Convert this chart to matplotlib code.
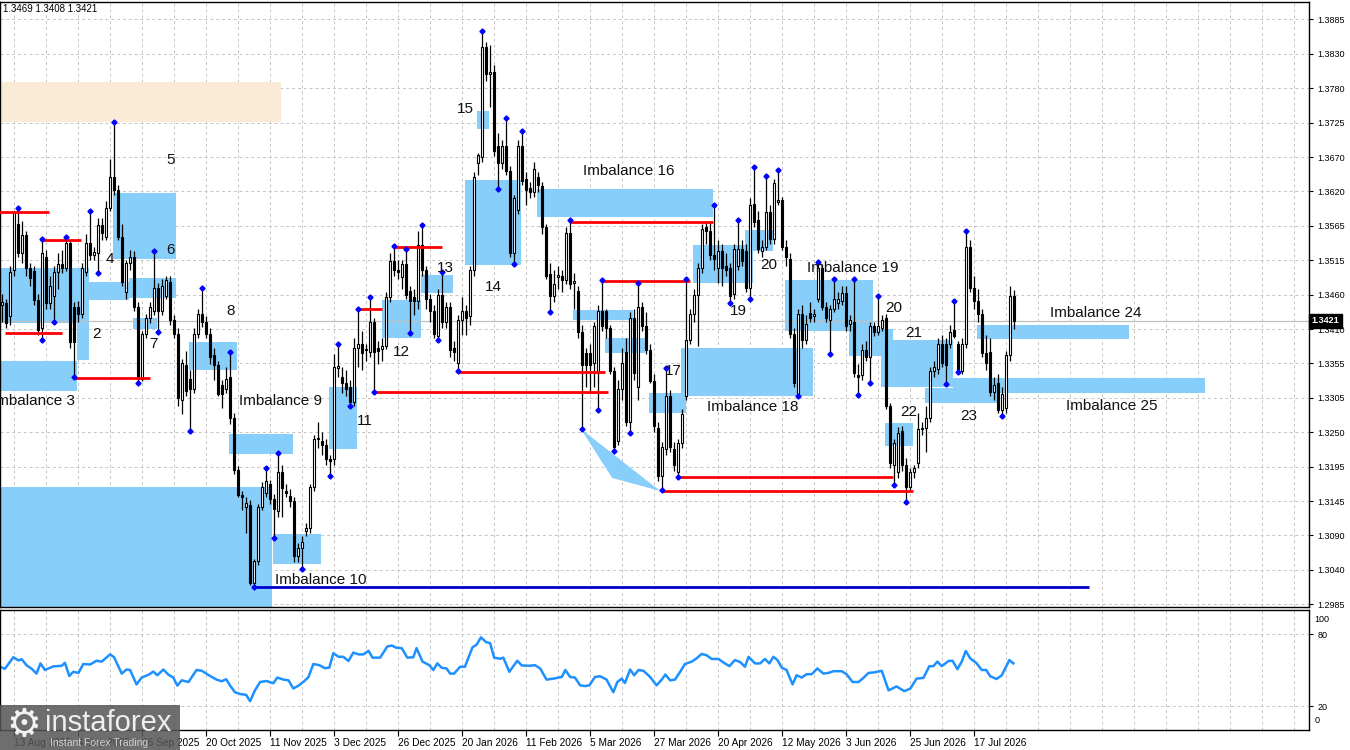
import numpy as np
import matplotlib
matplotlib.use("Agg")
import matplotlib.pyplot as plt
from matplotlib.patches import Rectangle, Polygon

plt.rcParams['font.family'] = ['Liberation Sans', 'DejaVu Sans']

# daily candles (bar 1 = leftmost visible candle)
opens = [
    1.3445, 1.3448, 1.3428, 1.3499, 1.3571, 1.3526, 1.3553, 1.3502, 1.3498, 1.3454,
    1.3410, 1.3520, 1.3448, 1.3460, 1.3496, 1.3508, 1.3502, 1.3541, 1.3443, 1.3443,
    1.3431, 1.3496, 1.3541, 1.3523, 1.3526, 1.3569, 1.3551, 1.3595, 1.3643, 1.3622,
    1.3550, 1.3466, 1.3510, 1.3520, 1.3443, 1.3332, 1.3401, 1.3425, 1.3437, 1.3472,
    1.3437, 1.3460, 1.3481, 1.3422, 1.3401, 1.3299, 1.3353, 1.3332, 1.3317, 1.3401,
    1.3431, 1.3419, 1.3401, 1.3368, 1.3353, 1.3323, 1.3317, 1.3335, 1.3272, 1.3191,
    1.3153, 1.3135, 1.3138, 1.3018, 1.3051, 1.3135, 1.3157, 1.3170, 1.3147, 1.3129,
    1.3188, 1.3160, 1.3151, 1.3144, 1.3060, 1.3072, 1.3098, 1.3102, 1.3165, 1.3239,
    1.3236, 1.3230, 1.3209, 1.3209, 1.3348, 1.3335, 1.3326, 1.3320, 1.3296, 1.3380,
    1.3386, 1.3378, 1.3374, 1.3419, 1.3380, 1.3378, 1.3383, 1.3458, 1.3514, 1.3500,
    1.3488, 1.3508, 1.3467, 1.3458, 1.3452, 1.3538, 1.3499, 1.3455, 1.3437, 1.3398,
    1.3461, 1.3419, 1.3443, 1.3380, 1.3356, 1.3422, 1.3437, 1.3428, 1.3499, 1.3664,
    1.3673, 1.3843, 1.3801, 1.3804, 1.3691, 1.3664, 1.3691, 1.3652, 1.3526, 1.3592,
    1.3691, 1.3640, 1.3625, 1.3619, 1.3643, 1.3628, 1.3565, 1.3493, 1.3460, 1.3489,
    1.3490, 1.3484, 1.3556, 1.3480, 1.3467, 1.3404, 1.3371, 1.3371, 1.3356, 1.3341,
    1.3437, 1.3437, 1.3410, 1.3344, 1.3236, 1.3317, 1.3374, 1.3266, 1.3425, 1.3320,
    1.3443, 1.3413, 1.3377, 1.3329, 1.3257, 1.3182, 1.3224, 1.3305, 1.3224, 1.3188,
    1.3233, 1.3305, 1.3392, 1.3431, 1.3461, 1.3502, 1.3565, 1.3559, 1.3523, 1.3502,
    1.3529, 1.3505, 1.3502, 1.3463, 1.3505, 1.3532, 1.3529, 1.3472, 1.3601, 1.3577,
    1.3529, 1.3535, 1.3589, 1.3547, 1.3604, 1.3607, 1.3535, 1.3517, 1.3401, 1.3308,
    1.3431, 1.3392, 1.3434, 1.3428, 1.3455, 1.3502, 1.3443, 1.3422, 1.3440, 1.3449,
    1.3452, 1.3464, 1.3416, 1.3419, 1.3338, 1.3338, 1.3377, 1.3365, 1.3413, 1.3404,
    1.3410, 1.3425, 1.3290, 1.3200, 1.3188, 1.3251, 1.3200, 1.3165, 1.3188, 1.3203,
    1.3254, 1.3257, 1.3272, 1.3344, 1.3347, 1.3386, 1.3386, 1.3386, 1.3407, 1.3386,
    1.3344, 1.3386, 1.3535, 1.3472, 1.3452, 1.3431, 1.3371, 1.3374, 1.3311, 1.3326,
    1.3284, 1.3287, 1.3368, 1.3460,
]
highs = [
    1.3462, 1.3455, 1.3505, 1.3590, 1.3595, 1.3575, 1.3560, 1.3510, 1.3505, 1.3462,
    1.3547, 1.3530, 1.3490, 1.3505, 1.3525, 1.3530, 1.3551, 1.3545, 1.3450, 1.3452,
    1.3510, 1.3555, 1.3590, 1.3535, 1.3580, 1.3580, 1.3605, 1.3670, 1.3727, 1.3630,
    1.3570, 1.3515, 1.3530, 1.3528, 1.3450, 1.3405, 1.3432, 1.3450, 1.3529, 1.3480,
    1.3485, 1.3490, 1.3490, 1.3430, 1.3410, 1.3362, 1.3375, 1.3345, 1.3410, 1.3440,
    1.3472, 1.3428, 1.3410, 1.3380, 1.3360, 1.3330, 1.3350, 1.3374, 1.3280, 1.3198,
    1.3160, 1.3150, 1.3145, 1.3055, 1.3140, 1.3173, 1.3194, 1.3176, 1.3155, 1.3218,
    1.3200, 1.3170, 1.3162, 1.3150, 1.3080, 1.3090, 1.3110, 1.3170, 1.3245, 1.3265,
    1.3250, 1.3240, 1.3215, 1.3370, 1.3386, 1.3350, 1.3345, 1.3330, 1.3395, 1.3440,
    1.3405, 1.3385, 1.3458, 1.3425, 1.3390, 1.3395, 1.3465, 1.3525, 1.3536, 1.3515,
    1.3515, 1.3532, 1.3475, 1.3470, 1.3560, 1.3568, 1.3505, 1.3462, 1.3445, 1.3470,
    1.3496, 1.3450, 1.3450, 1.3390, 1.3430, 1.3458, 1.3445, 1.3505, 1.3650, 1.3680,
    1.3868, 1.3850, 1.3845, 1.3815, 1.3710, 1.3700, 1.3734, 1.3660, 1.3615, 1.3700,
    1.3713, 1.3650, 1.3635, 1.3665, 1.3650, 1.3635, 1.3570, 1.3510, 1.3500, 1.3505,
    1.3500, 1.3565, 1.3576, 1.3495, 1.3475, 1.3415, 1.3380, 1.3385, 1.3420, 1.3445,
    1.3484, 1.3440, 1.3415, 1.3350, 1.3330, 1.3380, 1.3395, 1.3435, 1.3440, 1.3480,
    1.3450, 1.3435, 1.3385, 1.3340, 1.3265, 1.3235, 1.3348, 1.3315, 1.3235, 1.3240,
    1.3285, 1.3486, 1.3440, 1.3470, 1.3510, 1.3570, 1.3575, 1.3575, 1.3600, 1.3545,
    1.3540, 1.3525, 1.3510, 1.3540, 1.3576, 1.3545, 1.3540, 1.3610, 1.3658, 1.3590,
    1.3545, 1.3644, 1.3600, 1.3640, 1.3654, 1.3612, 1.3545, 1.3525, 1.3410, 1.3440,
    1.3445, 1.3430, 1.3450, 1.3440, 1.3511, 1.3508, 1.3450, 1.3445, 1.3486, 1.3465,
    1.3475, 1.3475, 1.3430, 1.3486, 1.3355, 1.3385, 1.3390, 1.3420, 1.3420, 1.3459,
    1.3430, 1.3432, 1.3295, 1.3240, 1.3258, 1.3260, 1.3210, 1.3195, 1.3200, 1.3280,
    1.3265, 1.3290, 1.3350, 1.3360, 1.3395, 1.3400, 1.3395, 1.3415, 1.3452, 1.3390,
    1.3395, 1.3559, 1.3545, 1.3490, 1.3470, 1.3440, 1.3400, 1.3395, 1.3335, 1.3340,
    1.3320, 1.3375, 1.3475, 1.3469,
]
lows = [
    1.3420, 1.3410, 1.3415, 1.3490, 1.3520, 1.3510, 1.3490, 1.3475, 1.3445, 1.3400,
    1.3392, 1.3440, 1.3440, 1.3419, 1.3470, 1.3495, 1.3498, 1.3380, 1.3335, 1.3420,
    1.3425, 1.3490, 1.3515, 1.3515, 1.3495, 1.3545, 1.3545, 1.3590, 1.3615, 1.3545,
    1.3475, 1.3455, 1.3500, 1.3437, 1.3326, 1.3328, 1.3395, 1.3418, 1.3430, 1.3404,
    1.3430, 1.3455, 1.3415, 1.3395, 1.3290, 1.3278, 1.3305, 1.3251, 1.3310, 1.3395,
    1.3412, 1.3395, 1.3355, 1.3330, 1.3305, 1.3287, 1.3310, 1.3262, 1.3185, 1.3150,
    1.3130, 1.3095, 1.3015, 1.3012, 1.3045, 1.3130, 1.3150, 1.3140, 1.3087, 1.3120,
    1.3120, 1.3150, 1.3135, 1.3050, 1.3050, 1.3039, 1.3090, 1.3095, 1.3160, 1.3225,
    1.3215, 1.3200, 1.3182, 1.3200, 1.3335, 1.3310, 1.3305, 1.3290, 1.3290, 1.3350,
    1.3345, 1.3360, 1.3365, 1.3312, 1.3355, 1.3360, 1.3378, 1.3450, 1.3490, 1.3485,
    1.3470, 1.3455, 1.3403, 1.3430, 1.3440, 1.3490, 1.3440, 1.3420, 1.3395, 1.3392,
    1.3410, 1.3410, 1.3365, 1.3360, 1.3344, 1.3400, 1.3400, 1.3415, 1.3490, 1.3645,
    1.3665, 1.3790, 1.3750, 1.3675, 1.3624, 1.3655, 1.3645, 1.3520, 1.3508, 1.3585,
    1.3630, 1.3600, 1.3610, 1.3612, 1.3620, 1.3555, 1.3485, 1.3435, 1.3450, 1.3470,
    1.3465, 1.3478, 1.3470, 1.3440, 1.3395, 1.3255, 1.3320, 1.3310, 1.3320, 1.3284,
    1.3405, 1.3395, 1.3340, 1.3221, 1.3230, 1.3300, 1.3260, 1.3248, 1.3330, 1.3300,
    1.3405, 1.3370, 1.3325, 1.3250, 1.3175, 1.3161, 1.3215, 1.3220, 1.3190, 1.3181,
    1.3225, 1.3300, 1.3385, 1.3420, 1.3383, 1.3495, 1.3540, 1.3515, 1.3500, 1.3480,
    1.3475, 1.3490, 1.3449, 1.3455, 1.3500, 1.3505, 1.3465, 1.3455, 1.3565, 1.3525,
    1.3520, 1.3530, 1.3540, 1.3540, 1.3600, 1.3530, 1.3505, 1.3395, 1.3320, 1.3305,
    1.3380, 1.3385, 1.3420, 1.3420, 1.3450, 1.3438, 1.3420, 1.3370, 1.3435, 1.3440,
    1.3445, 1.3405, 1.3405, 1.3335, 1.3307, 1.3330, 1.3360, 1.3326, 1.3398, 1.3400,
    1.3405, 1.3285, 1.3195, 1.3168, 1.3180, 1.3190, 1.3142, 1.3160, 1.3180, 1.3195,
    1.3245, 1.3220, 1.3265, 1.3335, 1.3340, 1.3350, 1.3324, 1.3380, 1.3395, 1.3343,
    1.3340, 1.3380, 1.3465, 1.3440, 1.3420, 1.3365, 1.3345, 1.3305, 1.3300, 1.3280,
    1.3275, 1.3280, 1.3360, 1.3408,
]
closes = [
    1.3450, 1.3418, 1.3497, 1.3589, 1.3526, 1.3553, 1.3502, 1.3487, 1.3454, 1.3407,
    1.3526, 1.3448, 1.3475, 1.3496, 1.3508, 1.3502, 1.3541, 1.3389, 1.3389, 1.3431,
    1.3502, 1.3541, 1.3523, 1.3527, 1.3568, 1.3556, 1.3595, 1.3643, 1.3622, 1.3550,
    1.3481, 1.3510, 1.3520, 1.3443, 1.3332, 1.3401, 1.3425, 1.3443, 1.3472, 1.3437,
    1.3475, 1.3484, 1.3422, 1.3401, 1.3302, 1.3356, 1.3314, 1.3317, 1.3401, 1.3431,
    1.3419, 1.3401, 1.3365, 1.3353, 1.3308, 1.3308, 1.3332, 1.3272, 1.3191, 1.3153,
    1.3150, 1.3141, 1.3018, 1.3051, 1.3135, 1.3165, 1.3174, 1.3147, 1.3132, 1.3188,
    1.3164, 1.3157, 1.3144, 1.3060, 1.3072, 1.3081, 1.3102, 1.3165, 1.3239, 1.3241,
    1.3230, 1.3209, 1.3206, 1.3350, 1.3352, 1.3325, 1.3317, 1.3296, 1.3380, 1.3386,
    1.3371, 1.3376, 1.3419, 1.3374, 1.3375, 1.3383, 1.3458, 1.3514, 1.3499, 1.3496,
    1.3508, 1.3461, 1.3452, 1.3452, 1.3538, 1.3499, 1.3455, 1.3437, 1.3401, 1.3461,
    1.3419, 1.3443, 1.3377, 1.3374, 1.3422, 1.3437, 1.3425, 1.3499, 1.3643, 1.3676,
    1.3843, 1.3801, 1.3804, 1.3682, 1.3664, 1.3691, 1.3652, 1.3526, 1.3610, 1.3691,
    1.3637, 1.3622, 1.3619, 1.3655, 1.3631, 1.3565, 1.3490, 1.3460, 1.3478, 1.3491,
    1.3484, 1.3556, 1.3478, 1.3482, 1.3404, 1.3353, 1.3353, 1.3353, 1.3413, 1.3437,
    1.3413, 1.3410, 1.3344, 1.3227, 1.3317, 1.3356, 1.3266, 1.3425, 1.3341, 1.3443,
    1.3413, 1.3377, 1.3329, 1.3260, 1.3182, 1.3227, 1.3305, 1.3227, 1.3200, 1.3233,
    1.3278, 1.3392, 1.3431, 1.3461, 1.3502, 1.3562, 1.3559, 1.3523, 1.3517, 1.3529,
    1.3502, 1.3499, 1.3460, 1.3532, 1.3532, 1.3514, 1.3472, 1.3599, 1.3574, 1.3532,
    1.3535, 1.3589, 1.3547, 1.3634, 1.3607, 1.3535, 1.3520, 1.3401, 1.3326, 1.3431,
    1.3392, 1.3416, 1.3425, 1.3431, 1.3502, 1.3443, 1.3425, 1.3440, 1.3455, 1.3455,
    1.3464, 1.3413, 1.3422, 1.3341, 1.3335, 1.3377, 1.3365, 1.3413, 1.3404, 1.3413,
    1.3422, 1.3290, 1.3203, 1.3233, 1.3248, 1.3200, 1.3165, 1.3188, 1.3194, 1.3254,
    1.3257, 1.3272, 1.3344, 1.3350, 1.3386, 1.3356, 1.3353, 1.3404, 1.3398, 1.3344,
    1.3386, 1.3535, 1.3472, 1.3452, 1.3431, 1.3371, 1.3356, 1.3311, 1.3323, 1.3284,
    1.3308, 1.3368, 1.3460, 1.3421,
]

# RSI sub-window, sampled along the drawn line (bar position, value)
rsi_bar = [
    0.6, 1.8, 3.9, 5.2, 6.0, 7.2, 8.5, 9.7, 10.7, 11.8,
    13.9, 16.0, 16.8, 17.9, 18.9, 20.2, 21.4, 23.1, 24.7, 26.0,
    28.1, 29.1, 31.0, 32.2, 33.1, 34.7, 36.0, 37.7, 38.9, 39.9,
    41.4, 42.7, 43.9, 44.9, 46.0, 47.7, 49.7, 51.0, 53.1, 54.7,
    56.0, 57.1, 58.1, 59.3, 60.6, 62.1, 63.1, 64.3, 65.6, 67.2,
    68.9, 69.9, 71.4, 72.7, 73.9, 75.2, 76.6, 77.7, 78.9, 80.4,
    81.8, 82.9, 83.9, 85.2, 86.4, 87.7, 88.9, 90.2, 91.4, 92.7,
    93.7, 95.6, 97.4, 98.5, 99.7, 101.0, 102.4, 103.9, 104.7, 106.2,
    107.9, 108.9, 109.9, 111.0, 112.2, 113.1, 114.1, 115.6, 116.8, 118.7,
    119.7, 120.8, 122.1, 123.1, 124.1, 125.6, 126.4, 127.9, 128.9,
    129.9, 131.0, 132.7, 134.3, 135.6, 137.2, 138.9, 140.2, 141.0, 141.9,
    143.1, 144.3, 145.6, 146.8, 147.9, 149.3, 150.6, 152.2, 153.9, 154.9,
    156.0, 156.8, 158.1, 159.1, 160.2, 161.4, 163.1, 164.7, 166.0, 166.9,
    168.1, 169.3, 170.6, 171.8, 173.5, 174.7, 176.0, 177.2, 178.5, 180.2,
    181.4, 182.9, 184.3, 185.6, 186.8, 187.7, 189.3, 190.6, 191.8, 192.9,
    193.9, 194.9, 196.0, 197.2, 198.7, 199.7, 201.0, 202.2, 203.5, 204.9,
    206.4, 207.7, 208.9, 211.0, 212.2, 213.7, 215.2, 216.4, 217.7, 218.9,
    221.0, 222.7, 224.7, 226.6, 228.1, 229.7, 231.4, 232.9, 233.9, 234.9,
    236.0, 237.7, 238.7, 239.9, 241.0, 242.0, 243.1, 244.6, 246.0, 247.1,
    248.1, 249.7, 251.0, 252.9, 253.9,
]
rsi_val = [
    52.7, 51, 60.6, 58, 59, 54, 51, 47, 55.5, 50,
    53, 53.5, 56, 45, 48.5, 47.6, 55, 54.6, 57.7, 57,
    63, 60.6, 47, 50.4, 50, 38, 43.7, 46, 48.7, 45.6,
    50.4, 46, 43.7, 37, 41.4, 40, 50, 49.4, 45, 42,
    40.6, 42.3, 37, 31.5, 30, 29.3, 24, 33, 40, 40.8,
    39, 43.7, 42, 41.4, 34.6, 37, 40.6, 44.2, 55, 54,
    51.5, 52, 64, 61, 61, 57.5, 64.5, 63, 63, 66,
    60.3, 60.3, 69.6, 70.4, 68.5, 68.2, 60.3, 60.6, 68.2, 57,
    54, 50, 55.5, 51.8, 51.3, 47, 47, 52.7, 52.7, 69,
    71, 77.2, 73.2, 72.4, 60.3, 59.4, 60.3, 48.5, 53.2,
    57.7, 53.8, 53.5, 54, 51.3, 42, 42.8, 43.7, 44.2, 50,
    44.2, 43.7, 37.2, 36.6, 37.2, 44.2, 44.8, 42, 31.5, 40,
    42.8, 39.2, 50.4, 45.6, 50, 49.4, 44.2, 37.2, 42, 46.2,
    41.4, 42, 48.5, 55, 57, 59.7, 63.4, 62.3, 59.2, 59.2,
    56.3, 53.2, 58.3, 56.6, 52.7, 61, 55.5, 55.5, 59.2, 55.5,
    61, 58.3, 52, 50, 38, 45.6, 43.7, 46.5, 46.5, 51.3,
    47, 47.6, 49, 49, 46.5, 40, 40, 43.4, 47.6, 47.9,
    49.3, 33, 36.3, 32.4, 34.4, 42.8, 43.4, 53.2, 53.2, 57,
    53.2, 57.5, 57.7, 50.7, 57, 65.9, 59.7, 56, 50, 50,
    44.8, 42.5, 45.6, 58.3, 55.5,
]

price_labels = ["1.3885", "1.3830", "1.3780", "1.3725", "1.3670", "1.3620",
                "1.3565", "1.3515", "1.3460", "1.3410", "1.3355", "1.3305",
                "1.3250", "1.3195", "1.3145", "1.3090", "1.3040", "1.2985"]
date_labels = ["13 Aug 2025", "4 Sep 2025", "26 Sep 2025", "20 Oct 2025",
               "11 Nov 2025", "3 Dec 2025", "26 Dec 2025", "20 Jan 2026",
               "11 Feb 2026", "5 Mar 2026", "27 Mar 2026", "20 Apr 2026",
               "12 May 2026", "3 Jun 2026", "25 Jun 2026", "17 Jul 2026"]
date_bars = [4, 20, 36, 52, 68, 84, 100, 116, 132, 148, 164, 180, 196, 212, 228, 244]

# fractal dots (bar numbers)
high_marks = [5, 11, 17, 23, 29, 39, 51, 58, 67, 70, 85, 90, 93, 99, 102, 106, 111,
              121, 127, 131, 143, 151, 160, 167, 172, 179, 185, 189, 192, 195, 205,
              209, 214, 220, 239, 242]
low_marks = [11, 14, 19, 25, 35, 40, 48, 64, 69, 76, 83, 88, 94, 103, 110, 115, 125,
             129, 138, 146, 150, 154, 158, 166, 170, 183, 188, 200, 208, 215, 218,
             224, 227, 237, 240, 251]

# imbalance zones: first bar, last bar, low, high
zones = [
    (-2, 20.6, 1.34179, 1.35018), (19.8, 22.8, 1.33610, 1.35018),
    (-2, 19.8, 1.33133, 1.33594), (22.8, 32.8, 1.34533, 1.34810),
    (28.8, 44.6, 1.35164, 1.36180), (32.8, 44.6, 1.34564, 1.34872),
    (33.8, 39.8, 1.34087, 1.34256), (47.8, 59.8, 1.33456, 1.33887),
    (-2, 68.6, 1.29000, 1.31655), (57.8, 73.8, 1.32163, 1.32471),
    (68.8, 80.8, 1.30470, 1.30932), (82.8, 89.8, 1.32240, 1.33194),
    (96.1, 105.8, 1.33948, 1.34533), (105.8, 113.8, 1.34641, 1.34918),
    (116.8, 130.8, 1.35079, 1.36380), (119.8, 122.8, 1.37165, 1.37442),
    (134.8, 178.8, 1.35810, 1.36241), (143.8, 158.8, 1.34225, 1.34379),
    (151.8, 161.8, 1.33717, 1.33948), (162.8, 172.1, 1.32794, 1.33102),
    (170.8, 203.8, 1.33056, 1.33794), (173.8, 188.8, 1.34795, 1.35380),
    (186.8, 193.8, 1.35287, 1.35610), (196.8, 218.8, 1.34056, 1.34841),
    (212.8, 223.8, 1.33671, 1.34087), (220.8, 238.8, 1.33194, 1.33917),
    (221.8, 228.8, 1.32286, 1.32640), (231.8, 250.6, 1.32948, 1.33179),
    (238.8, 301.8, 1.33102, 1.33333), (244.8, 282.8, 1.33933, 1.34148),
]
supply_zone = (-2, 70.8, 1.37272, 1.37888)
wedge = [(145.8, 1.32548), (165.6, 1.31594), (153.6, 1.31794)]

zone_texts = [
    ("Imbalance 3", -1.4, 1.32979), ("2", 23.6, 1.34010), ("4", 27.1, 1.35164),
    ("5", 42.1, 1.36688), ("6", 42.1, 1.35303), ("7", 37.8, 1.33856),
    ("8", 57.1, 1.34364), ("Imbalance 9", 60.3, 1.32979),
    ("Imbalance 10", 69.3, 1.30224), ("11", 89.8, 1.32671), ("12", 98.8, 1.33733),
    ("13", 109.8, 1.35026), ("14", 121.8, 1.34733), ("15", 114.8, 1.37473),
    ("Imbalance 16", 146.3, 1.36518), ("17", 166.8, 1.33440),
    ("Imbalance 18", 177.3, 1.32886), ("19", 183.1, 1.34364), ("20", 190.6, 1.35072),
    ("Imbalance 19", 202.3, 1.35026), ("20", 221.8, 1.34410), ("21", 226.8, 1.34025),
    ("22", 225.6, 1.32809), ("23", 240.6, 1.32748),
    ("Imbalance 24", 263.1, 1.34333), ("Imbalance 25", 267.1, 1.32902),
]

# broken swing levels: first bar, last bar, price
red_levels = [
    (0.0, 12.8, 1.3589), (11, 20.8, 1.3545), (1.8, 16.1, 1.3402), (19, 38.1, 1.3334),
    (90, 96.1, 1.3440), (94, 152.6, 1.3312), (99, 111, 1.3535), (115, 151.8, 1.3343),
    (143, 178.8, 1.3574), (151, 173.1, 1.3482), (170, 223.8, 1.3181),
    (166, 228.8, 1.3160),
]
blue_level = (64, 272.8, 1.3011)
last_price = 1.3421

o = np.array(opens)
h = np.array(highs)
l = np.array(lows)
c = np.array(closes)
n = len(c)
bars = np.arange(1, n + 1)

W, H = 1350.0, 750.0
fig = plt.figure(figsize=(13.5, 7.5), dpi=100)
ax = fig.add_axes([0, 1 - 607 / H, 1309 / W, 604.6 / H])
ax2 = fig.add_axes([0, 1 - 730 / H, 1309 / W, 120 / H])

xlim = (0.575, 327.8)
grid_kw = dict(color='#c4c4c4', linestyle=(0, (3, 3)), linewidth=0.7)

# ---- main price window
ax.set_xlim(*xlim)
ax.set_ylim(1.29808, 1.39113)
yt = np.linspace(1.3885, 1.2985, len(price_labels))
ax.yaxis.tick_right()
ax.set_yticks(yt)
ax.set_yticklabels(price_labels)
ax.tick_params(axis='y', labelsize=6.5, length=3, pad=3, color='black')
ax.set_xticks(np.arange(4, 328, 8))
ax.tick_params(axis='x', length=0, labelbottom=False)
ax.grid(True, **grid_kw)
ax.set_axisbelow(True)
for s in ax.spines.values():
    s.set_color('black')
    s.set_linewidth(1)

b0, b1, lo, hi = supply_zone
ax.add_patch(Rectangle((b0, lo), b1 - b0, hi - lo, facecolor='#faebd7',
                       edgecolor='none', zorder=1))
for b0, b1, lo, hi in zones:
    ax.add_patch(Rectangle((b0, lo), b1 - b0, hi - lo, facecolor='#87cefa',
                           edgecolor='none', zorder=1))
ax.add_patch(Polygon(wedge, closed=True, facecolor='#87cefa', edgecolor='none', zorder=1))

ax.axhline(last_price, color='#c0c0c0', lw=0.9, zorder=2)

# candles
up = c >= o
ax.vlines(bars, l, h, color='black', lw=0.9, zorder=3)
body_lo = np.minimum(o, c)
body_h = np.maximum(np.abs(c - o), 0.00005)
ax.bar(bars, body_h, bottom=body_lo, width=0.6,
       color=np.where(up, 'white', 'black'), edgecolor='black', linewidth=0.8, zorder=4)

for b0, b1, p in red_levels:
    ax.hlines(p, b0, b1, color='red', lw=2, zorder=5)
ax.hlines(blue_level[2], blue_level[0], blue_level[1], color='#0000cd', lw=2, zorder=5)

hm = np.array(high_marks)
lm = np.array(low_marks)
ax.plot(hm, h[hm - 1], 'D', color='blue', ms=2.6, zorder=6)
ax.plot(lm, l[lm - 1], 'D', color='blue', ms=2.6, zorder=6)

for t, b, p in zone_texts:
    ax.text(b, p, t, fontsize=11, ha='left', va='center', color='#111111', zorder=7)

ax.text(0.002, 0.997, "1.3469 1.3408 1.3421", transform=ax.transAxes,
        fontsize=7, ha='left', va='top')
ax.text(1.002, last_price, "1.3421", transform=ax.get_yaxis_transform(),
        fontsize=6.5, color='white', fontweight='bold', ha='left', va='center',
        bbox=dict(boxstyle='square,pad=0.25', facecolor='black', edgecolor='black'),
        zorder=8, clip_on=False)

# ---- RSI window
ax2.set_xlim(*xlim)
ax2.set_ylim(0, 100)
ax2.plot(rsi_bar, rsi_val, color='#1e90ff', lw=1.8)
ax2.yaxis.tick_right()
ax2.set_yticks([80, 20])
ax2.set_yticklabels(["80", "20"])
ax2.tick_params(axis='y', labelsize=6.5, length=3, pad=3)
ax2.text(1.004, 0.96, "100", transform=ax2.transAxes, fontsize=6.5, va='top', ha='left')
ax2.text(1.004, 0.04, "0", transform=ax2.transAxes, fontsize=6.5, va='bottom', ha='left')
ax2.set_xticks(date_bars)
ax2.set_xticklabels(date_labels)
ax2.set_xticks(np.arange(4, 328, 8), minor=True)
ax2.tick_params(axis='x', which='major', labelsize=7.3, length=4, pad=1.5)
ax2.tick_params(axis='x', which='minor', length=0)
for lab in ax2.get_xticklabels():
    lab.set_ha('left')
ax2.grid(True, which='both', **grid_kw)
ax2.set_axisbelow(True)
for s in ax2.spines.values():
    s.set_color('black')
    s.set_linewidth(1)

# watermark logo bottom-left
fig.patches.append(Rectangle((0, 0), 180 / W, 45 / H, transform=fig.transFigure,
                             facecolor='#555555', alpha=0.85, edgecolor='none', zorder=10))
fig.text(24 / W, 25 / H, "\u2699", fontsize=28, color='#f2f2f2', ha='center', va='center',
         family='DejaVu Sans', zorder=11)
fig.text(45 / W, 27 / H, "instaforex", fontsize=21, color='#eeeeee', ha='left',
         va='center', zorder=11)
fig.text(50 / W, 7 / H, "Instant Forex Trading", fontsize=7.5, color='#d0d0d0',
         ha='left', va='center', zorder=11)

fig.savefig("out.png", dpi=100)
